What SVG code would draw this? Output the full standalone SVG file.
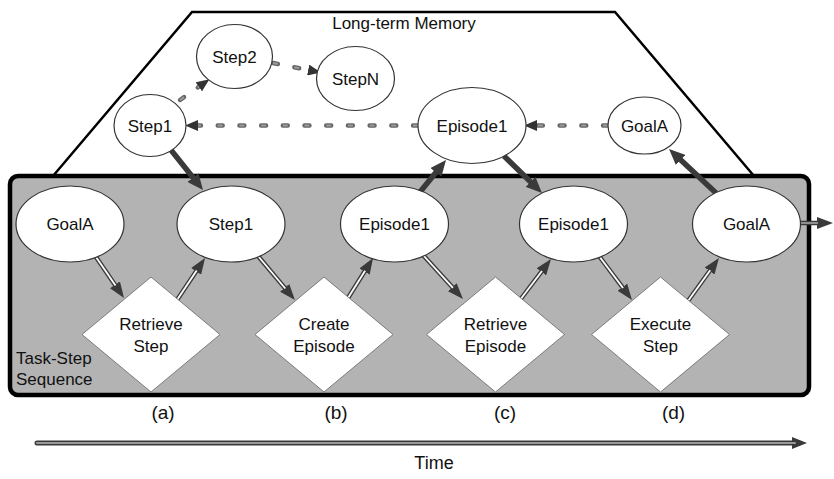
<svg xmlns="http://www.w3.org/2000/svg" width="834" height="479" viewBox="0 0 834 479">
<defs>
<style>
text{font-family:"Liberation Sans",Arial,Helvetica,sans-serif;fill:#111;}
.n{font-size:17px;text-anchor:middle;}
.lbl{font-size:19px;text-anchor:middle;}
.node{fill:#fff;stroke:#333;stroke-width:1.2;}
.dia{fill:#fff;stroke:#666;stroke-width:0.8;}
.dblo{fill:none;stroke:#3a3a3a;stroke-width:4.5;marker-end:url(#ahead);}
.dbli{fill:none;stroke:#fff;stroke-width:1.8;}
.thick{fill:none;stroke:#3a3a3a;stroke-width:5.5;marker-end:url(#thead);}
.dsho{fill:none;stroke:#666;stroke-width:4.4;stroke-dasharray:5 16.7;stroke-linecap:round;}
.dshi{fill:none;stroke:#9a9a9a;stroke-width:2;stroke-dasharray:5 16.7;}
</style>
<marker id="dhead" viewBox="0 0 13 11" refX="4" refY="5.5" markerWidth="13" markerHeight="11" markerUnits="userSpaceOnUse" orient="auto">
<path d="M0,0 L13,5.5 L0,11 z" fill="#333"/>
</marker>
<marker id="thead" viewBox="0 0 16 14" refX="6" refY="7" markerWidth="16" markerHeight="14" markerUnits="userSpaceOnUse" orient="auto">
<path d="M0,0 L16,7 L0,14 z" fill="#3a3a3a"/>
</marker>
<marker id="ahead" viewBox="0 0 16 12" refX="8" refY="6" markerWidth="16" markerHeight="12" markerUnits="userSpaceOnUse" orient="auto">
<path d="M0,0 L16,6 L0,12 z" fill="#3a3a3a"/>
</marker>
<marker id="timehead" viewBox="0 0 15 12" refX="7" refY="6" markerWidth="15" markerHeight="12" markerUnits="userSpaceOnUse" orient="auto">
<path d="M0,0 L15,6 L0,12 z" fill="#3a3a3a"/>
</marker>
</defs>
<rect width="834" height="479" fill="#fff"/>

<g id="long-term-memory">
<polyline points="53,176 192,12 615,12 754,176" fill="none" stroke="#000" stroke-width="2.5"/>
<text x="404" y="29" class="n">Long-term Memory</text>
</g>

<g id="task-step-sequence">
<rect x="10" y="176" width="799" height="219" rx="8" fill="#b3b3b3" stroke="#000" stroke-width="4.5"/>
<text x="16" y="364" font-size="17">Task-Step</text>
<text x="16" y="385" font-size="17">Sequence</text>
</g>

<g id="connectors">
<!-- dashed memory links -->
<path class="dsho" d="M180,100 L202.1,84.5"/>
<path class="dshi" d="M180,100 L202.1,84.5" marker-end="url(#dhead)"/>
<path class="dsho" d="M273,63 L312.1,70.8"/>
<path class="dshi" d="M273,63 L312.1,70.8" marker-end="url(#dhead)"/>
<path class="dsho" d="M418,125.5 L194,125.5"/>
<path class="dshi" d="M418,125.5 L194,125.5" marker-end="url(#dhead)"/>
<path class="dsho" d="M608,125.5 L533,125.5"/>
<path class="dshi" d="M608,125.5 L533,125.5" marker-end="url(#dhead)"/>

<!-- thick retrieval/storage arrows -->
<path class="thick" d="M171,150 L196.75,182.2"/>
<path class="thick" d="M420,192 L439.7,167.8"/>
<path class="thick" d="M504,156 L534.8,186"/>
<path class="thick" d="M716,193 L676.3,155.8"/>

<!-- double-line sequence arrows -->
<path class="dblo" d="M96,257 L119.5,291.4"/>
<path class="dbli" d="M96,257 L115.5,285.6"/>
<path class="dblo" d="M177,300 L200.6,264.7"/>
<path class="dbli" d="M177,300 L196.7,270.5"/>
<path class="dblo" d="M258,256 L289.8,293.9"/>
<path class="dbli" d="M258,256 L285.3,288.5"/>
<path class="dblo" d="M348,298 L368.8,264.8"/>
<path class="dbli" d="M348,298 L365.1,270.7"/>
<path class="dblo" d="M423,255 L457.6,293.1"/>
<path class="dbli" d="M423,255 L452.9,287.9"/>
<path class="dblo" d="M520,300 L546.2,265.4"/>
<path class="dbli" d="M520,300 L542,271"/>
<path class="dblo" d="M599,256 L627.2,293.6"/>
<path class="dbli" d="M599,256 L623,288"/>
<path class="dblo" d="M688,301 L714.3,264.5"/>
<path class="dbli" d="M688,301 L710.2,270.2"/>
<path class="dblo" d="M800,223 L825,223"/>
<path class="dbli" d="M800,223 L818,223" style="stroke:#999"/>
</g>

<g id="mem-step1"><ellipse class="node" cx="150" cy="125.5" rx="36" ry="31"/><text x="150" y="132" class="n">Step1</text></g>
<g id="mem-step2"><ellipse class="node" cx="234.5" cy="56.5" rx="38" ry="32"/><text x="234.5" y="63" class="n">Step2</text></g>
<g id="mem-stepN"><ellipse class="node" cx="355.5" cy="78.5" rx="39" ry="32"/><text x="355.5" y="85" class="n">StepN</text></g>
<g id="mem-episode1"><ellipse class="node" cx="472" cy="125.5" rx="54" ry="38"/><text x="472" y="132" class="n">Episode1</text></g>
<g id="mem-goalA"><ellipse class="node" cx="644.5" cy="125.5" rx="36.5" ry="28.5"/><text x="644.5" y="132" class="n">GoalA</text></g>

<g id="seq-goalA-a"><ellipse class="node" cx="70" cy="224" rx="54" ry="38"/><text x="70" y="230" class="n">GoalA</text></g>
<g id="seq-step1"><ellipse class="node" cx="231" cy="224" rx="54" ry="38"/><text x="231" y="230" class="n">Step1</text></g>
<g id="seq-episode1-b"><ellipse class="node" cx="394.5" cy="224" rx="54" ry="38"/><text x="394.5" y="230" class="n">Episode1</text></g>
<g id="seq-episode1-c"><ellipse class="node" cx="573.5" cy="224" rx="54" ry="38"/><text x="573.5" y="230" class="n">Episode1</text></g>
<g id="seq-goalA-d"><ellipse class="node" cx="746.5" cy="224" rx="54" ry="38"/><text x="746.5" y="230" class="n">GoalA</text></g>

<g id="retrieve-step"><polygon class="dia" points="151,277 220,334.5 151,392 82,334.5"/><text x="151" y="330" class="n">Retrieve</text><text x="151" y="352" class="n">Step</text></g>
<g id="create-episode"><polygon class="dia" points="324,277 393,334.5 324,392 255,334.5"/><text x="324" y="330" class="n">Create</text><text x="324" y="352" class="n">Episode</text></g>
<g id="retrieve-episode"><polygon class="dia" points="495.5,277 564.5,334.5 495.5,392 426.5,334.5"/><text x="495.5" y="330" class="n">Retrieve</text><text x="495.5" y="352" class="n">Episode</text></g>
<g id="execute-step"><polygon class="dia" points="660.5,277 729.5,334.5 660.5,392 591.5,334.5"/><text x="660.5" y="330" class="n">Execute</text><text x="660.5" y="352" class="n">Step</text></g>

<g id="stage-labels">
<text x="163" y="419" class="lbl">(a)</text>
<text x="336" y="419" class="lbl">(b)</text>
<text x="505" y="419" class="lbl">(c)</text>
<text x="673.5" y="419" class="lbl">(d)</text>
</g>

<g id="time-axis">
<path d="M37,443 L799,443" fill="none" stroke="#3a3a3a" stroke-width="5" stroke-linecap="round" marker-end="url(#timehead)"/>
<path d="M37,443 L795,443" fill="none" stroke="#999" stroke-width="2.2" stroke-linecap="round"/>
<text x="434" y="469" font-size="18" text-anchor="middle">Time</text>
</g>
</svg>
